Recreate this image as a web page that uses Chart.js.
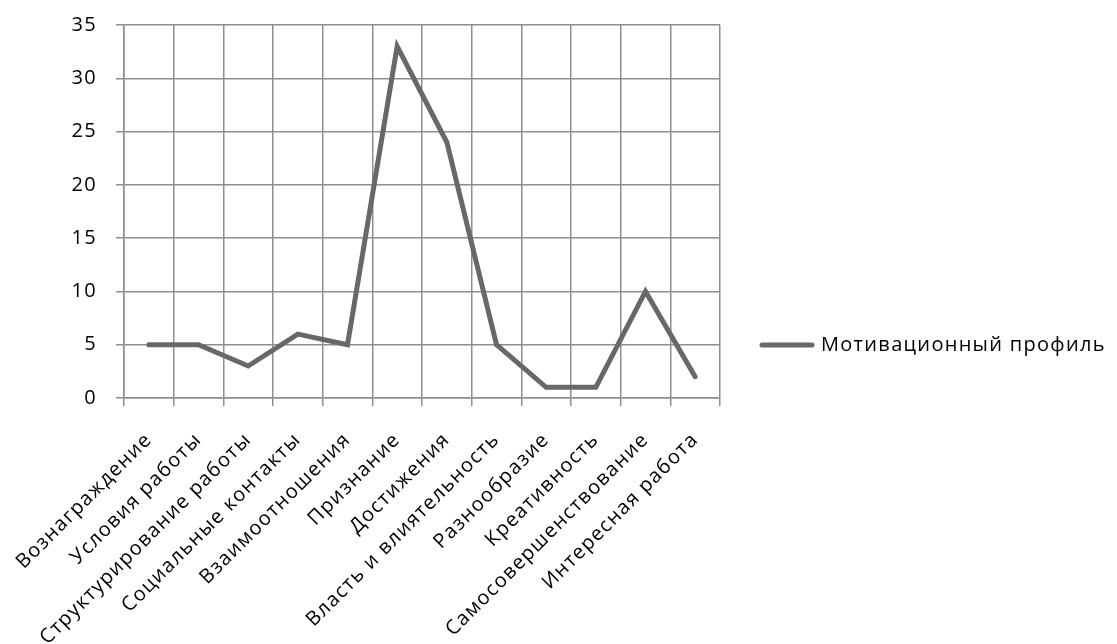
<!DOCTYPE html>
<html>
<head>
<meta charset="utf-8">
<script src="https://cdn.jsdelivr.net/npm/chart.js@4/dist/chart.umd.min.js"></script>
<style>
  html, body { margin: 0; padding: 0; background: #fff; }
  #wrap { width: 1117px; height: 644px; }
</style>
</head>
<body>
<div id="wrap"><canvas id="c" width="1117" height="644"></canvas></div>
<script>
const categories = [
  'Вознаграждение', 'Условия работы', 'Структурирование работы', 'Социальные контакты',
  'Взаимоотношения', 'Признание', 'Достижения', 'Власть и влиятельность',
  'Разнообразие', 'Креативность', 'Самосовершенствование', 'Интересная работа'
];
const seriesName = 'Мотивационный профиль';
const profileValues = [5, 5, 3, 6, 5, 33, 24, 5, 1, 1, 10, 2];
const yTicks = [0, 5, 10, 15, 20, 25, 30, 35];

const FONT = '"Open Sans", "Noto Sans", sans-serif';
const FONT_SIZE = 20;
const LETTER_SPACING = '1.3px';
const LINE_COLOR = '#686868';
const GRID_COLOR = '#8e8e8e';

// Slightly wider lettering for every label on the canvas
const wideText = {
  id: 'wideText',
  beforeDraw(chart) { chart.ctx.letterSpacing = LETTER_SPACING; }
};

// Legend drawn to the right of the plot, beside the series line sample
const sideLegend = {
  id: 'sideLegend',
  afterDraw(chart) {
    const ctx = chart.ctx;
    const ds = chart.data.datasets[0];
    const y = 345;
    ctx.save();
    ctx.strokeStyle = ds.borderColor;
    ctx.lineWidth = 5;
    ctx.lineCap = 'round';
    ctx.beginPath();
    ctx.moveTo(762, y);
    ctx.lineTo(812, y);
    ctx.stroke();
    ctx.fillStyle = '#000';
    ctx.font = FONT_SIZE + 'px ' + FONT;
    ctx.letterSpacing = LETTER_SPACING;
    ctx.textBaseline = 'middle';
    ctx.textAlign = 'left';
    ctx.fillText(ds.label, 821, y);
    ctx.restore();
  }
};

new Chart(document.getElementById('c'), {
  type: 'line',
  data: {
    labels: categories,
    datasets: [{
      label: seriesName,
      data: profileValues,
      borderColor: LINE_COLOR,
      backgroundColor: LINE_COLOR,
      borderWidth: 5,
      borderCapStyle: 'round',
      pointRadius: 0,
      tension: 0,
      fill: false
    }]
  },
  options: {
    responsive: false,
    animation: false,
    devicePixelRatio: 1,
    layout: { padding: { left: 0, right: 397, top: 25, bottom: 0 } },
    plugins: {
      legend: { display: false },
      tooltip: { enabled: false }
    },
    scales: {
      x: {
        type: 'category',
        offset: true,
        afterFit(scale) { scale.height = 246; },
        grid: {
          offset: true,
          color: GRID_COLOR,
          lineWidth: 1.5,
          tickLength: 8,
          drawTicks: true
        },
        border: { color: GRID_COLOR, width: 1.5 },
        ticks: {
          autoSkip: false,
          maxRotation: 45,
          minRotation: 45,
          padding: 22,
          color: '#000',
          font: { family: FONT, size: FONT_SIZE }
        }
      },
      y: {
        min: 0,
        max: 35,
        afterBuildTicks(scale) { scale.ticks = yTicks.map(v => ({ value: v })); },
        afterFit(scale) {
          scale.width = 124;
          scale.paddingTop = 0;
          scale.paddingBottom = 0;
        },
        grid: {
          color: GRID_COLOR,
          lineWidth: 1.5,
          tickLength: 8
        },
        border: { color: GRID_COLOR, width: 1.5 },
        ticks: {
          padding: 19,
          color: '#000',
          font: { family: FONT, size: FONT_SIZE }
        }
      }
    }
  },
  plugins: [wideText, sideLegend]
});
</script>
</body>
</html>
